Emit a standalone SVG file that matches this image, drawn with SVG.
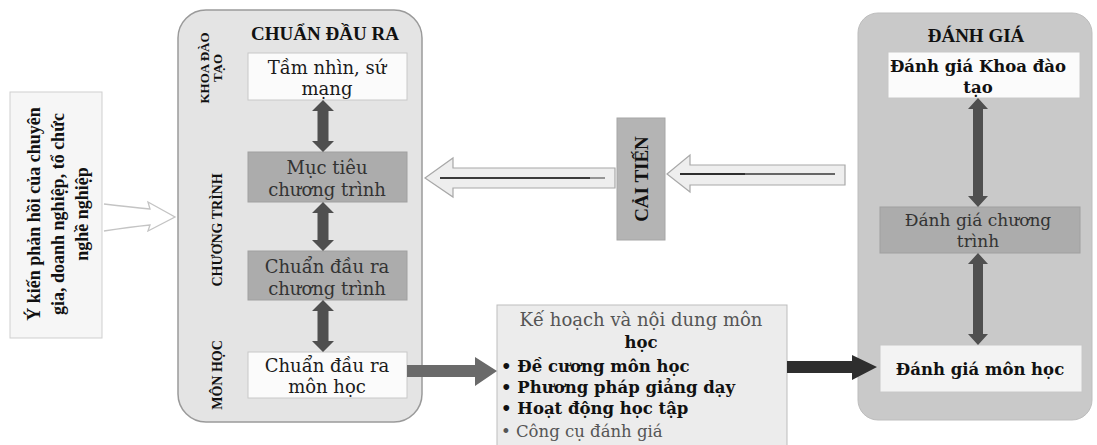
<svg xmlns="http://www.w3.org/2000/svg" width="1097" height="445" viewBox="0 0 1097 445">
<style>
.t{font-family:"DejaVu Serif","Liberation Serif",serif;font-size:18px;fill:#333;text-anchor:middle}
.k{font-family:"DejaVu Serif","Liberation Serif",serif;font-size:16.5px;font-weight:bold;fill:#111;text-anchor:middle}
.s{text-anchor:start}
.fb{font-family:"Liberation Serif",serif;font-weight:bold;font-size:18px;fill:#111;text-anchor:middle}
.lbl{font-family:"Liberation Serif",serif;font-weight:bold;font-size:13px;fill:#111;text-anchor:middle}
.ttl{font-family:"Liberation Serif",serif;font-weight:bold;font-size:19px;fill:#111;text-anchor:middle}
.wbox{fill:#fbfbfb;stroke:#c8c8c8;stroke-width:1}
.gbox{fill:#acacac;stroke:#a0a0a0;stroke-width:1}
.dbl{fill:#4f4f4f}
.hollow{fill:#eeeeee;stroke:#a8a8a8;stroke-width:1.2}
</style>
<rect width="1097" height="445" fill="#ffffff"/>

<g id="feedback">
<rect x="10" y="92" width="92" height="246" fill="#f6f6f6" stroke="#cfcfcf"/>
<g transform="translate(56,214) rotate(-90)">
<text class="fb" x="0" y="-16">Ý kiến phản hồi của chuyên</text>
<text class="fb" x="0" y="8">gia, doanh nghiệp, tổ chức</text>
<text class="fb" x="0" y="32">nghề nghiệp</text>
</g>
</g>

<g id="chuan-dau-ra">
<rect x="178" y="10" width="244" height="412" rx="28" fill="#e4e4e4" stroke="#9a9a9a" stroke-width="1.5"/>
<text class="ttl" x="325" y="40">CHUẨN ĐẦU RA</text>
<g transform="translate(211,68) rotate(-90)">
<text class="lbl" x="0" y="-2">KHOA ĐÀO</text>
<text class="lbl" x="0" y="11">TẠO</text>
</g>
<text class="lbl" transform="translate(222,230) rotate(-90)" style="font-size:14px">CHƯƠNG TRÌNH</text>
<text class="lbl" transform="translate(222,375) rotate(-90)" style="font-size:14px">MÔN HỌC</text>
</g>

<g id="tam-nhin">
<rect class="wbox" x="248" y="53" width="159" height="47"/>
<text class="t" x="327" y="74" style="fill:#1a1a1a">Tầm nhìn, sứ</text>
<text class="t" x="327" y="95" style="fill:#1a1a1a">mạng</text>
</g>
<g id="muc-tieu">
<rect class="gbox" x="248" y="152" width="159" height="50"/>
<text class="t" x="327" y="174">Mục tiêu</text>
<text class="t" x="327" y="196">chương trình</text>
</g>
<g id="cdr-chuong-trinh">
<rect class="gbox" x="248" y="251" width="159" height="49"/>
<text class="t" x="327" y="273">Chuẩn đầu ra</text>
<text class="t" x="327" y="295">chương trình</text>
</g>
<g id="cdr-mon-hoc">
<rect class="wbox" x="248" y="352" width="159" height="46"/>
<text class="t" x="327" y="372" style="fill:#1a1a1a">Chuẩn đầu ra</text>
<text class="t" x="327" y="393" style="fill:#1a1a1a">môn học</text>
</g>

<g id="cai-tien">
<rect x="617" y="118" width="48" height="122" fill="#b4b4b4" stroke="#a6a6a6"/>
<text class="ttl" transform="translate(648,179) rotate(-90)">CẢI TIẾN</text>
</g>

<g id="ke-hoach">
<rect x="497" y="305" width="290" height="142" fill="#ececec" stroke="#bdbdbd"/>
<text class="t" x="641" y="326" style="fill:#555">Kế hoạch và nội dung môn</text>
<text class="k" x="641" y="348">học</text>
<text class="k s" x="501" y="372">• Đề cương môn học</text>
<text class="k s" x="501" y="393">• Phương pháp giảng dạy</text>
<text class="k s" x="501" y="414">• Hoạt động học tập</text>
<text class="t s" x="501" y="437" style="font-size:16.5px;fill:#555">• Công cụ đánh giá</text>
</g>

<g id="danh-gia">
<rect x="858" y="13" width="234" height="407" rx="20" fill="#c9c9c9" stroke="#bdbdbd"/>
<text class="ttl" x="976" y="42">ĐÁNH GIÁ</text>
</g>
<g id="dg-khoa">
<rect class="wbox" x="888" y="52" width="192" height="46"/>
<text class="k" x="978" y="72">Đánh giá Khoa đào</text>
<text class="k" x="978" y="93">tạo</text>
</g>
<g id="dg-chuong-trinh">
<rect class="gbox" x="880" y="207" width="200" height="46"/>
<text class="t" x="978" y="226" style="font-size:17px">Đánh giá chương</text>
<text class="t" x="978" y="247" style="font-size:17px">trình</text>
</g>
<g id="dg-mon-hoc">
<rect class="wbox" x="880" y="345" width="202" height="47" style="fill:#f3f3f3"/>
<text class="k" x="980" y="375">Đánh giá môn học</text>
</g>

<g id="connectors">
<path d="M104,204 Q130,207 150,209 L148,202 L175,217 L148,231 L150,225 Q130,227 104,231" fill="none" stroke="#c4c4c4" stroke-width="1.3"/>
<path class="dbl" d="M323,100 L334,111 L328.5,111 L328.5,141 L334,141 L323,152 L312,141 L317.5,141 L317.5,111 L312,111 Z"/>
<path class="dbl" d="M323,202 L334,213 L328.5,213 L328.5,240 L334,240 L323,251 L312,240 L317.5,240 L317.5,213 L312,213 Z"/>
<path class="dbl" d="M323,300 L334,311 L328.5,311 L328.5,341 L334,341 L323,352 L312,341 L317.5,341 L317.5,311 L312,311 Z"/>
<path class="dbl" d="M978,98 L988,109 L983,109 L983,196 L988,196 L978,207 L968,196 L973,196 L973,109 L968,109 Z"/>
<path class="dbl" d="M978,253 L988,264 L983,264 L983,334 L988,334 L978,345 L968,334 L973,334 L973,264 L968,264 Z"/>
<path d="M407,365 L475,365 L475,357 L497,371 L475,386 L475,377 L407,377 Z" fill="#6a6a6a"/>
<path d="M787,361 L852,361 L852,355 L877,367 L852,380 L852,373 L787,373 Z" fill="#2e2e2e"/>
<path class="hollow" d="M615,168 L453,168 L453,158 L425,178 L453,197 L453,188 L615,188 Z"/>
<line x1="440" y1="178" x2="590" y2="178" stroke="#3a3a3a" stroke-width="2"/>
<line x1="590" y1="178" x2="605" y2="178" stroke="#777" stroke-width="1.5"/>
<path class="hollow" d="M845,165 L690,165 L690,155 L667,174 L690,192 L690,185 L845,185 Z"/>
<line x1="680" y1="174" x2="745" y2="174" stroke="#2e2e2e" stroke-width="2.2"/>
<line x1="745" y1="174" x2="835" y2="174" stroke="#666" stroke-width="1.8"/>
</g>
</svg>
